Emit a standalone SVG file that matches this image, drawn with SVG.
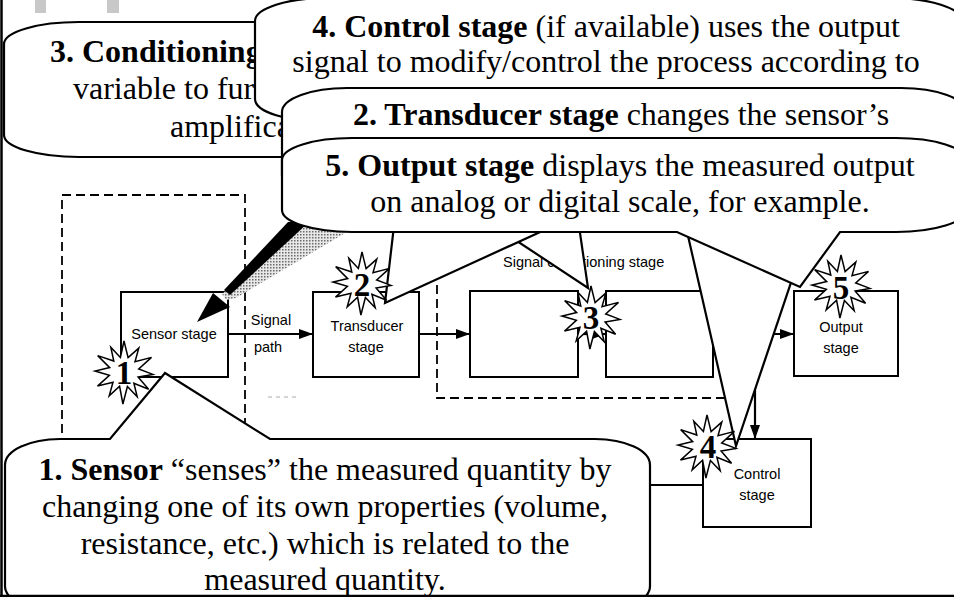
<svg xmlns="http://www.w3.org/2000/svg" width="954" height="597" viewBox="0 0 954 597">
<defs>
<style>
.cap{font-family:"Liberation Serif","Times New Roman",serif;font-size:32px;fill:#000}
.b{font-weight:bold}
.lab{font-family:"Liberation Sans",Arial,sans-serif;font-size:14.5px;fill:#000}
.box{fill:#fff;stroke:#000;stroke-width:2}
.dash{fill:none;stroke:#000;stroke-width:1.8;stroke-dasharray:9 5}
.bub{fill:#fff;stroke:#000;stroke-width:2.2;stroke-linejoin:miter}
.star{fill:#fff;stroke:#000;stroke-width:1.5;stroke-linejoin:miter}
.num{font-family:"Liberation Serif","Times New Roman",serif;font-size:33px;font-weight:bold;fill:#000;text-anchor:middle}
.con{fill:none;stroke:#000;stroke-width:2.2}
</style>
<marker id="ah" markerUnits="userSpaceOnUse" markerWidth="14" markerHeight="10" refX="14" refY="5" orient="auto">
<path d="M0,0 L14,5 L0,10 Z" fill="#000"/>
</marker>
<pattern id="dots" width="3" height="3" patternUnits="userSpaceOnUse">
<rect width="3" height="3" fill="#e8e8e8"/>
<rect width="1.5" height="1.5" fill="#6a6a6a"/>
</pattern>
<path id="star" d="M0,-31 L4.1,-14.4 L14.8,-23.9 L11,-10.2 L27.5,-14.6 L14.7,-3 L28.9,2.4 L14.1,5.1 L24.6,17.2 L9.9,11.2 L13.2,24.8 L3.4,14.6 L-1.1,32 L-4.4,14.3 L-14.8,23.9 L-11,10.2 L-26.5,14.1 L-14.6,3.4 L-29,-1 L-14.3,-4.4 L-26.3,-16.4 L-10.2,-11 L-13.2,-24.8 L-3.6,-14.6 Z"/>
<clipPath id="clip"><rect x="0" y="0" width="954" height="596"/></clipPath>
</defs>
<rect x="0" y="0" width="954" height="597" fill="#fff"/>
<g clip-path="url(#clip)">
<g id="top-marks">
<rect x="35" y="0" width="11" height="13" fill="#c8c8c8"/>
<rect x="107" y="0" width="12" height="13" fill="#c8c8c8"/>
</g>
<g id="sensor-group">
<rect class="dash" x="62" y="195" width="183" height="300"/>
</g>
<g id="conditioning-group">
<rect class="dash" x="437" y="222" width="308" height="176"/>
<text class="lab" x="503" y="267">Signal conditioning stage</text>
</g>
<g id="sensor-stage">
<rect class="box" x="121" y="292" width="107" height="85"/>
<text class="lab" x="174" y="339" text-anchor="middle">Sensor stage</text>
</g>
<g id="transducer-stage">
<rect class="box" x="313" y="292" width="106" height="85"/>
<text class="lab" x="367" y="331" text-anchor="middle">Transducer</text>
<text class="lab" x="366" y="352" text-anchor="middle">stage</text>
</g>
<g id="conditioning-a">
<rect class="box" x="470" y="291" width="108" height="86"/>
</g>
<g id="conditioning-b">
<rect class="box" x="606" y="291" width="107" height="86"/>
</g>
<g id="output-stage">
<rect class="box" x="794" y="291" width="104" height="85"/>
<text class="lab" x="841" y="332" text-anchor="middle">Output</text>
<text class="lab" x="841" y="353" text-anchor="middle">stage</text>
</g>
<g id="control-stage">
<rect class="box" x="703" y="439" width="108" height="88"/>
<text class="lab" x="757" y="479" text-anchor="middle">Control</text>
<text class="lab" x="757" y="500" text-anchor="middle">stage</text>
</g>
<g id="connectors">
<line class="con" x1="228" y1="334" x2="313" y2="334" marker-end="url(#ah)"/>
<text class="lab" x="271" y="325" text-anchor="middle">Signal</text>
<text class="lab" x="268" y="352" text-anchor="middle">path</text>
<line class="con" x1="419" y1="334" x2="470" y2="334" marker-end="url(#ah)"/>
<line class="con" x1="578" y1="334" x2="606" y2="334" marker-end="url(#ah)"/>
<line class="con" x1="713" y1="334" x2="794" y2="334" marker-end="url(#ah)"/>
<line class="con" x1="755" y1="334" x2="755" y2="439" marker-end="url(#ah)"/>
<line class="con" x1="560" y1="485" x2="703" y2="485" stroke-width="2.6"/>
<line x1="268" y1="397" x2="298" y2="397" stroke="#aaa" stroke-width="1.2" stroke-dasharray="4 4"/>
</g>
<g id="pointer-arrow">
<polygon points="305,226 357,226 236,298 226,300 222,294" fill="url(#dots)"/>
<polygon points="288,222 309,222 230,295 224,290" fill="#000"/>
<polygon points="197,322 213,293 230,307" fill="#000"/>
</g>
<g id="callout-3">
<path class="bub" d="M79,22 H728 A75,22 0 0 1 803,44 V135 A75,22 0 0 1 728,157 H569 L588,288 L390,157 H79 A75,22 0 0 1 4,135 V44 A75,22 0 0 1 79,22 Z"/>
<text class="cap b" x="50" y="62">3. Conditioning</text>
<text class="cap" x="73" y="99">variable to furt</text>
<text class="cap" x="170" y="137">amplifica</text>
</g>
<g id="callout-4">
<path class="bub" d="M327,-2 H890 A72,23 0 0 1 962,21 V99 A72,23 0 0 1 890,122 H845 L736,446 L662,122 H327 A72,23 0 0 1 255,99 V21 A72,23 0 0 1 327,-2 Z"/>
<text class="cap" x="606" y="37" text-anchor="middle"><tspan class="b">4. Control stage</tspan> (if available) uses the output</text>
<text class="cap" x="606" y="72" text-anchor="middle">signal to modify/control the process according to</text>
</g>
<g id="callout-2">
<path class="bub" d="M347,88 H901 A65,24 0 0 1 966,112 V176 A65,24 0 0 1 901,200 H610 L385,303 L397,200 H347 A65,24 0 0 1 282,176 V112 A65,24 0 0 1 347,88 Z"/>
<text class="cap" x="621" y="125" text-anchor="middle"><tspan class="b">2. Transducer stage</tspan> changes the sensor’s</text>
</g>
<g id="callout-5">
<path class="bub" d="M352,138 H896 A70,22 0 0 1 966,160 V210 A70,22 0 0 1 896,232 H840 L800,287 L677,232 H352 A70,22 0 0 1 282,210 V160 A70,22 0 0 1 352,138 Z"/>
<text class="cap" x="620" y="176" text-anchor="middle"><tspan class="b">5. Output stage</tspan> displays the measured output</text>
<text class="cap" x="620" y="212" text-anchor="middle">on analog or digital scale, for example.</text>
</g>
<g id="callout-1">
<path class="bub" d="M60,439 H110 L165,373 L270,439 H595 A55,26 0 0 1 650,465 V586 A55,26 0 0 1 595,612 H60 A55,26 0 0 1 5,586 V465 A55,26 0 0 1 60,439 Z"/>
<text class="cap" x="325" y="480" text-anchor="middle"><tspan class="b">1. Sensor</tspan> “senses” the measured quantity by</text>
<text class="cap" x="325" y="517" text-anchor="middle">changing one of its own properties (volume,</text>
<text class="cap" x="325" y="554" text-anchor="middle">resistance, etc.) which is related to the</text>
<text class="cap" x="325" y="590" text-anchor="middle">measured quantity.</text>
</g>
<g id="star-1"><use href="#star" class="star" transform="translate(124,372)"/><text class="num" x="124" y="384">1</text></g>
<g id="star-2"><use href="#star" class="star" transform="translate(362,283)"/><text class="num" x="362" y="296">2</text></g>
<g id="star-3"><use href="#star" class="star" transform="translate(591,317)"/><text class="num" x="591" y="329">3</text></g>
<g id="star-4"><use href="#star" class="star" transform="translate(707,446)"/><text class="num" x="708" y="458">4</text></g>
<g id="star-5"><use href="#star" class="star" transform="translate(841,286)"/><text class="num" x="841" y="299">5</text></g>
</g>
<g id="frame">
<line x1="1.5" y1="0" x2="1.5" y2="597" stroke="#000" stroke-width="2.5"/>
<line x1="0" y1="596" x2="954" y2="596" stroke="#000" stroke-width="2.5"/>
</g>
</svg>
